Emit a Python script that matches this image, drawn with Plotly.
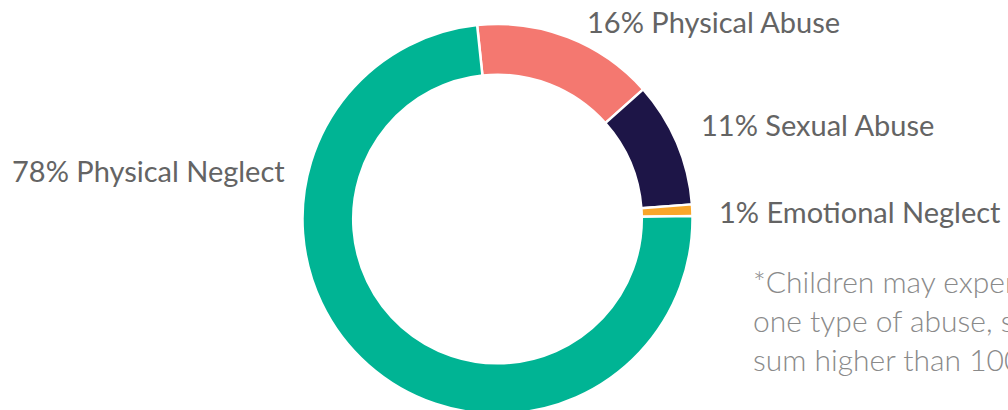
import plotly.graph_objects as go

categories = ["Physical Abuse", "Sexual Abuse", "Emotional Neglect", "Physical Neglect"]
values = [16, 11, 1, 78]
colors = ["#f47870", "#1d1547", "#f9a62a", "#00b494"]
label_text = ["16% Physical Abuse", "11% Sexual Abuse", "1% Emotional Neglect", "78% Physical Neglect"]
footnote = "*Children may experience more than<br>one type of abuse, so percentages<br>sum higher than 100%"

W, H = 1008, 430
cx, cy, R = 497.5, 219, 195

fig = go.Figure(go.Pie(
    labels=categories,
    values=values,
    marker=dict(colors=colors, line=dict(color="white", width=2.5)),
    hole=0.74,
    sort=False,
    direction="clockwise",
    rotation=-6,
    textinfo="none",
    hoverinfo="label+value",
    showlegend=False,
    domain=dict(x=[(cx - R) / W, (cx + R) / W], y=[(H - cy - R) / H, (H - cy + R) / H]),
))

font_lbl = dict(family="Lato, 'Open Sans', sans-serif", size=29, color="#646464")
pos = [
    (585, 21.5, "left"),
    (699, 124.5, "left"),
    (717, 211, "left"),
    (287, 170.5, "right"),
]
for t, (x, y, anc) in zip(label_text, pos):
    fig.add_annotation(x=x / W, y=(H - y) / H, xref="paper", yref="paper", text=t,
                       showarrow=False, xanchor=anc, yanchor="middle", font=font_lbl)

fig.add_annotation(x=751 / W, y=(H - 320) / H, xref="paper", yref="paper", text=footnote,
                   showarrow=False, xanchor="left", yanchor="middle", align="left",
                   font=dict(family="Lato, 'Open Sans', sans-serif", size=30, color="#8a8a8a", weight=300))

fig.update_layout(width=W, height=H, margin=dict(l=0, r=0, t=0, b=0),
                  paper_bgcolor="white", plot_bgcolor="white")

fig.write_html("out.html", config={"displayModeBar": False},
               post_script="document.body.style.margin='0';document.body.style.overflow='hidden';document.documentElement.style.overflow='hidden';")
